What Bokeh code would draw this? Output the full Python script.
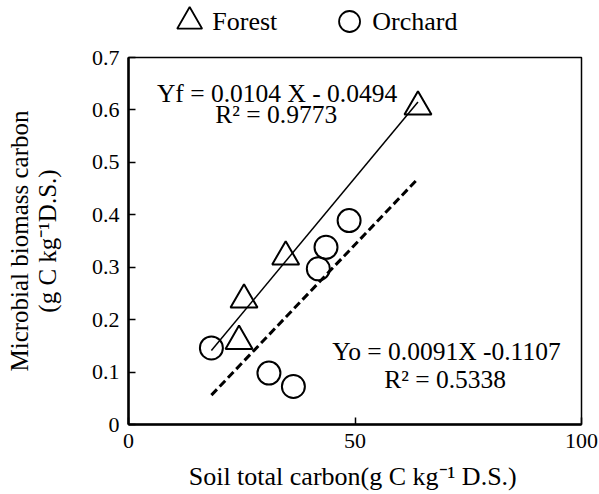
from bokeh.plotting import figure
from bokeh.layouts import column
from bokeh.models import Label, FixedTicker
from bokeh.core.properties import value
from bokeh.embed import file_html
from bokeh.resources import INLINE

# ---- data ----
forest_x = [24.4, 25.5, 34.7, 63.9]
forest_y = [0.159, 0.238, 0.320, 0.606]
orchard_x = [18.3, 31.0, 36.4, 41.9, 43.6, 48.7]
orchard_y = [0.146, 0.098, 0.0725, 0.297, 0.338, 0.389]

forest_fit_x = [18.3, 63.9]
forest_fit_y = [0.141, 0.615]
orchard_fit_x = [18.3, 63.9]
orchard_fit_y = [0.056, 0.469]

x_ticks = [0, 50, 100]
y_ticks = [0, 0.1, 0.2, 0.3, 0.4, 0.5, 0.6, 0.7]

series_names = ["Forest", "Orchard"]
forest_eq = "Yf = 0.0104 X - 0.0494"
forest_r2 = "R\u00b2 = 0.9773"
orchard_eq = "Yo = 0.0091X -0.1107"
orchard_r2 = "R\u00b2 = 0.5338"
x_label = "Soil total carbon(g C kg\u207b\u00b9 D.S.)"
y_label = "Microbial biomass carbon\n(g C kg\u207b\u00b9D.S.)"

FONT = "Liberation Serif"
W = 599
TOP_H = 42      # legend strip
MAIN_H = 416    # plot with tick labels
BOT_H = 36      # x-axis title strip
BORDER_L, BORDER_R = 128, 18


def strip(height, y_max):
    f = figure(width=W, height=height, output_backend="svg", toolbar_location=None,
               x_axis_location=None, y_axis_location=None,
               x_range=(0, 100), y_range=(0, y_max),
               min_border_left=BORDER_L, min_border_right=BORDER_R,
               min_border_top=0, min_border_bottom=0)
    f.grid.visible = False
    f.outline_line_color = None
    f.background_fill_color = "white"
    f.border_fill_color = "white"
    return f

# ---------------- legend strip ----------------
lg = strip(TOP_H, TOP_H)
leg_marker_x = [13.5, 48.8]
leg_text_x = [18.5, 53.8]
leg_y = [TOP_H / 2, TOP_H / 2]
lg.scatter(x=leg_marker_x[:1], y=leg_y[:1], marker="triangle", size=25,
           fill_color=None, line_color="black", line_width=1.8)
lg.scatter(x=leg_marker_x[1:], y=leg_y[1:], marker="circle", size=21,
           fill_color=None, line_color="black", line_width=1.8)
lg.text(x=leg_text_x, y=leg_y, text=series_names, text_font=value(FONT),
        text_font_size=value("26px"), text_color="black",
        text_align="left", text_baseline="middle")

# ---------------- main plot ----------------
p = figure(width=W, height=MAIN_H, x_range=(0, 100), y_range=(0, 0.7),
           output_backend="svg", toolbar_location=None,
           min_border_left=BORDER_L, min_border_right=BORDER_R,
           min_border_top=57 - TOP_H, min_border_bottom=TOP_H + MAIN_H - 424)
p.background_fill_color = "white"
p.border_fill_color = "white"
p.outline_line_color = "black"
p.outline_line_width = 1.5
p.grid.visible = False

for ax in (p.xaxis[0], p.yaxis[0]):
    ax.axis_line_width = 2.5
    ax.axis_line_color = "black"
    ax.major_tick_in = 7
    ax.major_tick_out = 0
    ax.major_tick_line_width = 1.5
    ax.minor_tick_line_color = None
    ax.major_label_text_font = FONT
    ax.major_label_text_font_size = "22px"
    ax.major_label_text_color = "black"
    ax.axis_label_text_font = FONT
    ax.axis_label_text_font_size = "25px"
    ax.axis_label_text_font_style = "normal"
    ax.axis_label_text_color = "black"

p.xaxis[0].ticker = FixedTicker(ticks=x_ticks)
p.yaxis[0].ticker = FixedTicker(ticks=y_ticks)
p.yaxis[0].major_label_overrides = {0: "0"}
p.xaxis[0].major_label_standoff = 9
p.yaxis[0].major_label_standoff = 9
p.yaxis[0].axis_label = y_label
p.yaxis[0].axis_label_standoff = 28
p.yaxis[0].axis_label_text_line_height = 1.04

# fit lines
p.line(forest_fit_x, forest_fit_y, line_color="black", line_width=1.5)
p.line(orchard_fit_x, orchard_fit_y, line_color="black", line_width=3, line_dash="8 4")

# points
p.scatter(forest_x, forest_y, marker="triangle", size=27, fill_color=None,
          line_color="black", line_width=2)
p.scatter(orchard_x, orchard_y, marker="circle", size=23, fill_color=None,
          line_color="black", line_width=2)

# equations
def txt(x, y, s):
    p.add_layout(Label(x=x, y=y, text=s, text_font=FONT, text_font_size="25.5px",
                       text_color="black", text_align="center",
                       text_baseline="alphabetic"))

txt(32.8, 0.631, forest_eq)
txt(32.6, 0.591, forest_r2)
txt(70.2, 0.140, orchard_eq)
txt(69.9, 0.0853, orchard_r2)

# ---------------- x-axis title strip ----------------
bt = strip(BOT_H, BOT_H)
bt.text(x=[49.5], y=[BOT_H / 2], text=[x_label], text_font=value(FONT),
        text_font_size=value("26px"), text_color="black",
        text_align="center", text_baseline="middle")

layout = column(lg, p, bt, spacing=0)
open("out.html", "w").write(file_html(layout, INLINE))
